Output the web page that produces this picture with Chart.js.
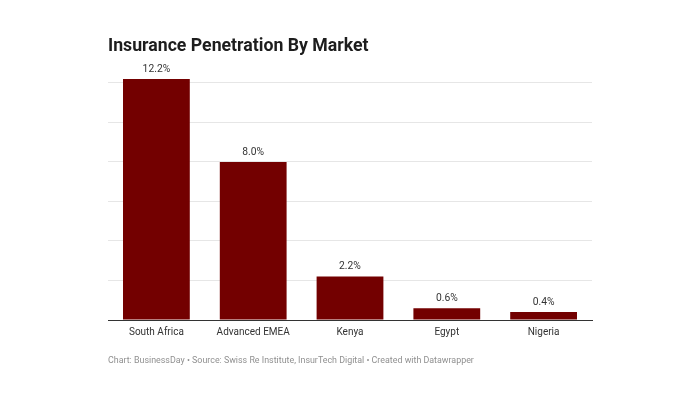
<!DOCTYPE html>
<html>
<head>
<meta charset="utf-8">
<script src="https://cdn.jsdelivr.net/npm/chart.js@4"></script>
<style>
  html, body { margin: 0; padding: 0; background: #fff; }
  #wrap { position: relative; width: 700px; height: 400px; overflow: hidden; }
  #title { position: absolute; left: 108px; top: 35px; font-family: Roboto, sans-serif; font-weight: 700; font-size: 17.7px; color: #1d1d1d; white-space: nowrap; }
  #footer { position: absolute; left: 108px; top: 355px; font-family: Roboto, sans-serif; font-size: 8.9px; color: #909090; white-space: nowrap; }
  canvas { position: absolute; left: 0; top: 0; }
</style>
</head>
<body>
<div id="wrap">
  <canvas id="c" width="700" height="400"></canvas>
  <div id="title">Insurance Penetration By Market</div>
  <div id="footer">Chart: BusinessDay • Source: Swiss Re Institute, InsurTech Digital • Created with Datawrapper</div>
</div>
<script>
const categories = ["South Africa", "Advanced EMEA", "Kenya", "Egypt", "Nigeria"];
const values = [12.2, 8.0, 2.2, 0.6, 0.4];
const gridTicks = [0, 2, 4, 6, 8, 10, 12];

const valueLabels = {
  id: 'valueLabels',
  afterDatasetsDraw(chart) {
    const ctx = chart.ctx;
    const meta = chart.getDatasetMeta(0);
    ctx.save();
    ctx.font = '10.3px Roboto, sans-serif';
    ctx.fillStyle = '#333';
    ctx.textAlign = 'center';
    ctx.textBaseline = 'middle';
    meta.data.forEach((bar, i) => {
      ctx.fillText(values[i].toFixed(1) + '%', bar.x, bar.y - 10);
    });
    ctx.restore();
  }
};

new Chart(document.getElementById('c'), {
  type: 'bar',
  data: {
    labels: categories,
    datasets: [{
      data: values,
      backgroundColor: '#730000',
      borderWidth: 0,
      barPercentage: 0.69,
      categoryPercentage: 1.0
    }]
  },
  options: {
    responsive: false,
    animation: false,
    devicePixelRatio: 1,
    layout: { padding: { left: 108, right: 108, top: 79, bottom: 56 } },
    plugins: { legend: { display: false }, tooltip: { enabled: false } },
    scales: {
      x: {
        grid: { display: false, drawTicks: false },
        border: { display: true, color: '#333', width: 1 },
        ticks: { color: '#333', font: { family: 'Roboto, sans-serif', size: 10 }, padding: 6 }
      },
      y: {
        min: 0,
        max: 12.2,
        afterBuildTicks(scale) { scale.ticks = gridTicks.map(v => ({ value: v })); },
        grid: {
          drawTicks: false,
          color: (c) => (c.tick && c.tick.value === 0) ? 'rgba(0,0,0,0)' : '#e6e6e6',
          lineWidth: 1
        },
        border: { display: false },
        ticks: { display: false }
      }
    }
  },
  plugins: [valueLabels]
});
</script>
</body>
</html>
